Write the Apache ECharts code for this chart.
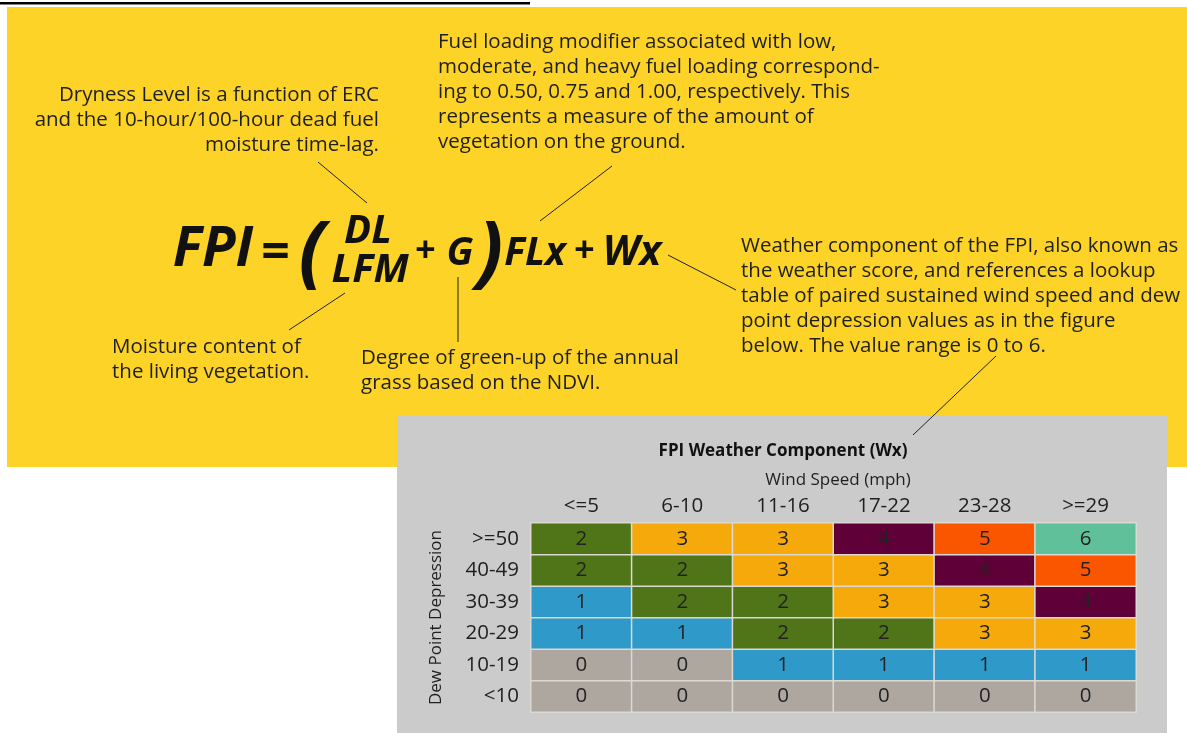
<!DOCTYPE html>
<html>
<head>
<meta charset="utf-8">
<script src="https://cdn.jsdelivr.net/npm/echarts@6/dist/echarts.min.js"></script>
<style>
  html, body { margin: 0; padding: 0; background: #fff; }
  #main { width: 1187px; height: 733px; }
</style>
</head>
<body>
<div id="main"></div>
<script>
// wind speed bins (columns) and dew point depression bins (rows, bottom to top)
var windSpeed = ["<=5", "6-10", "11-16", "17-22", "23-28", ">=29"];
var dewPoint = ["<10", "10-19", "20-29", "30-39", "40-49", ">=50"];
// Wx score, one row per dew point bin, same order as dewPoint
var wxRows = [
  [0, 0, 0, 0, 0, 0],
  [0, 0, 1, 1, 1, 1],
  [1, 1, 2, 2, 3, 3],
  [1, 2, 2, 3, 3, 4],
  [2, 2, 3, 3, 4, 5],
  [2, 3, 3, 4, 5, 6]
];
var scoreColors = ["#ada7a0", "#2f9aca", "#4f7518", "#f5a90a", "#600038", "#fa5600", "#5fc09a"];

var cells = [];
for (var r = 0; r < dewPoint.length; r++) {
  for (var c = 0; c < windSpeed.length; c++) {
    cells.push([c, r, wxRows[r][c]]);
  }
}

var txt = "#1f1f1f";
var bodyFont = "Open Sans";

function note(x, y, lines, align) {
  return {
    type: "text", x: x, y: y, z: 100,
    style: {
      text: lines.join("\n"), fill: txt, fontFamily: bodyFont, fontSize: 20.5,
      lineHeight: 25, align: align || "left", verticalAlign: "top"
    }
  };
}
function eq(x, y, s, size) {
  return {
    type: "text", x: x, y: y, z: 100,
    style: {
      text: s, fill: "#111", fontFamily: bodyFont, fontSize: size,
      fontWeight: "bold", fontStyle: "italic", align: "center", verticalAlign: "middle"
    }
  };
}
function lead(x1, y1, x2, y2) {
  return {
    type: "line", z: 100,
    shape: { x1: x1, y1: y1, x2: x2, y2: y2 },
    style: { stroke: "#222", lineWidth: 1 }
  };
}

var chart = echarts.init(document.getElementById("main"));
chart.setOption({
  backgroundColor: "#fff",
  animation: false,
  grid: { left: 531, top: 523, width: 605, height: 189 },
  xAxis: {
    type: "category", position: "top", data: windSpeed,
    name: "Wind Speed (mph)", nameLocation: "middle", nameGap: 34,
    nameTextStyle: { fontFamily: bodyFont, fontSize: 17, color: txt, padding: [0, 0, 0, 9] },
    axisLine: { show: false }, axisTick: { show: false }, splitLine: { show: false },
    axisLabel: { fontFamily: bodyFont, fontSize: 20.5, color: txt, margin: 6 }
  },
  yAxis: {
    type: "category", data: dewPoint,
    name: "Dew Point Depression", nameLocation: "middle", nameGap: 86, nameRotate: 90,
    nameTextStyle: { fontFamily: bodyFont, fontSize: 17, color: txt },
    axisLine: { show: false }, axisTick: { show: false }, splitLine: { show: false },
    axisLabel: { fontFamily: bodyFont, fontSize: 20.5, color: txt, margin: 12 }
  },
  visualMap: {
    type: "piecewise", show: false, dimension: 2,
    pieces: scoreColors.map(function (col, i) { return { value: i, color: col }; })
  },
  series: [{
    type: "heatmap",
    data: cells,
    itemStyle: { borderColor: "#dcd8d2", borderWidth: 1.5 },
    label: { show: true, fontFamily: bodyFont, fontSize: 20.5, color: "#222" },
    emphasis: { disabled: true }
  }],
  graphic: [
    // backgrounds
    { type: "rect", z: -10, shape: { x: 7, y: 7, width: 1180, height: 460 }, style: { fill: "#fdd327" } },
    { type: "rect", z: -5, shape: { x: 397, y: 415, width: 770, height: 318 }, style: { fill: "#cbcbcb" } },
    { type: "rect", z: -5, shape: { x: 0, y: 2, width: 530, height: 2.5 }, style: { fill: "#000" } },

    // table title
    {
      type: "text", x: 783, y: 451, z: 100,
      style: { text: "FPI Weather Component (Wx)", fill: "#111", fontFamily: bodyFont, fontSize: 17,
        fontWeight: "bold", align: "center", verticalAlign: "middle" }
    },

    // formula
    eq(213, 250, "FPI", 55),
    eq(275, 254, "=", 50),
    eq(312, 255, "(", 78),
    eq(368, 232, "DL", 40),
    eq(370, 271, "LFM", 40),
    eq(425, 252, "+", 36),
    eq(460, 254, "G", 39),
    eq(490, 255, ")", 78),
    eq(535, 254, "FLx", 39),
    eq(584, 252, "+", 36),
    eq(632, 253, "Wx", 41),

    // annotations
    note(379, 83, ["Dryness Level is a function of ERC",
                   "and the 10-hour/100-hour dead fuel",
                   "moisture time-lag."], "right"),
    note(438, 30, ["Fuel loading modifier associated with low,",
                   "moderate, and heavy fuel loading correspond-",
                   "ing to 0.50, 0.75 and 1.00, respectively. This",
                   "represents a measure of the amount of",
                   "vegetation on the ground."]),
    note(741, 234, ["Weather component of the FPI, also known as",
                    "the weather score, and references a lookup",
                    "table of paired sustained wind speed and dew",
                    "point depression values as in the figure",
                    "below. The value range is 0 to 6."]),
    note(112, 335, ["Moisture content of", "the living vegetation."]),
    note(361, 346, ["Degree of green-up of the annual", "grass based on the NDVI."]),

    // leader lines
    lead(318, 162, 367, 203),
    lead(540, 221, 612, 166),
    lead(668, 255, 736, 290),
    lead(289, 330, 345, 293),
    lead(458, 277, 458, 342),
    lead(996, 356, 913, 435)
  ]
});
</script>
</body>
</html>
